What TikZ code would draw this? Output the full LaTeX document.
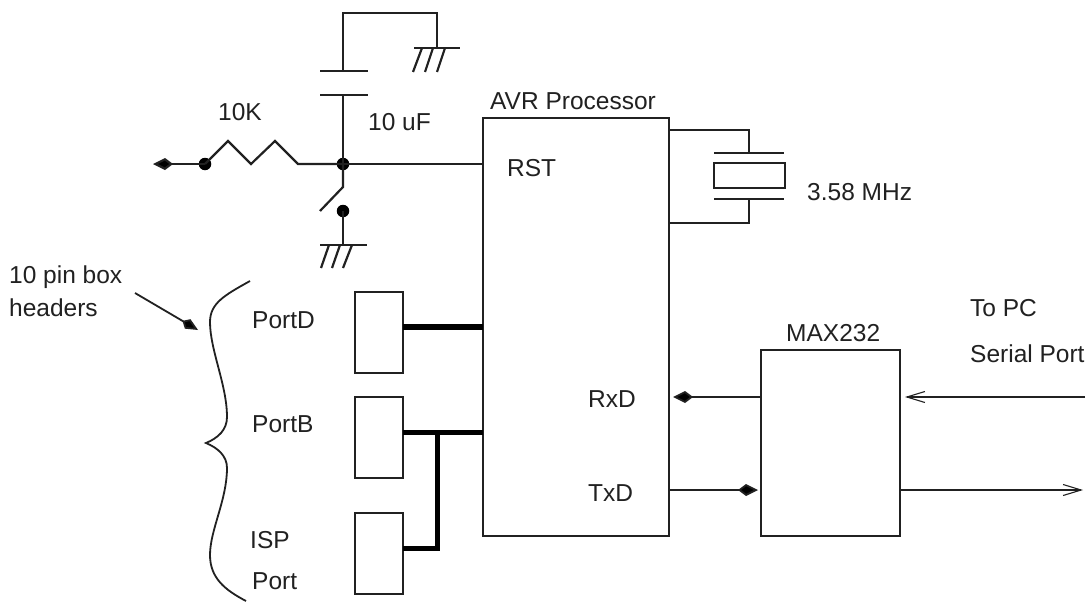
\documentclass[tikz,border=0pt]{standalone}
\usepackage{fontspec}
\setmainfont{Liberation Sans}
\usetikzlibrary{arrows.meta,calc}
\definecolor{ink}{gray}{0.13}
\tikzset{
  wire/.style={draw=ink,line width=2.2pt},
  thin wire/.style={draw=ink,line width=1.8pt},
  fatwire/.style={draw=black,line width=5pt},
  fatterwire/.style={draw=black,line width=6.5pt},
  boxnode/.style={draw=ink,line width=2.2pt,rectangle,anchor=north west,outer sep=0pt,inner sep=0pt},
  label text/.style={anchor=base west,inner sep=0pt,text=ink,font=\fontsize{24.5}{28}\selectfont},
  dotnode/.style={circle,fill=black,minimum size=12.5pt,inner sep=0pt,outer sep=0pt},
  kitehead/.style={-{Kite[length=20pt,width=12pt,inset=8pt,fill=black]}},
  barbhead/.style={-{Straight Barb[length=18pt,width=11pt,line width=1.1pt]}}
}
\begin{document}
\begin{tikzpicture}[x=1pt,y=-1pt]
\fill[white] (0,0) rectangle (1089,602);
\useasboundingbox (0,0) rectangle (1089,602);

% main boxes
\node[boxnode,minimum width=186pt,minimum height=418pt] (avr) at (483,118) {};
\node[boxnode,minimum width=139pt,minimum height=186pt] (max) at (761,350) {};
\node[boxnode,minimum width=48pt,minimum height=81pt] (pd) at (355,292) {};
\node[boxnode,minimum width=48pt,minimum height=81pt] (pb) at (355,397) {};
\node[boxnode,minimum width=48pt,minimum height=81pt] (isp) at (355,513) {};
\node[boxnode,minimum width=71pt,minimum height=25pt] (xtal) at (714,163) {};

% reset network
\node[dotnode] (junction) at (343,164) {};
\node[dotnode] (rleft) at (205,164) {};
\node[dotnode] (swdot) at (343,211) {};
\coordinate (farleft) at (153,164);
\coordinate (capLow) at (343,95);
\coordinate (capHigh) at (343,71);
\coordinate (swHinge) at (343,187);
\coordinate (swEnd) at (320,211);
\coordinate (gndA) at (437,48);
\coordinate (gndB) at (343,245);

\draw[wire,kitehead] (rleft.center) -- (farleft);
\draw[wire,line join=miter] (rleft.center) -- (228,141) -- (251,164) -- (275,141) -- (298,164) -- (junction.center);
\draw[wire] (junction.center) -- (junction.center -| avr.west);
\draw[wire] (junction.center) -- (capLow);
\draw[wire] (capLow -| 320,0) -- (capLow -| 368,0);
\draw[wire] (capHigh -| 320,0) -- (capHigh -| 368,0);
\draw[wire] (capHigh) -- (343,13) -- (437,13) -- (gndA);
\draw[wire] (414,48) -- (460,48);
\draw[wire] (422,48) -- (413,72) (433,48) -- (425,72) (445,48) -- (437,72);
\draw[wire] (junction.center) -- (swHinge) -- (swEnd);
\draw[wire] (swdot.center) -- (gndB);
\draw[wire] (320,245) -- (367,245);
\draw[wire] (329,245) -- (321,268) (340,245) -- (332,268) (352,245) -- (343,268);

% crystal
\coordinate (xt) at (749,153);
\coordinate (xb) at (749,199);
\draw[wire] (714,153) -- (784,153);
\draw[wire] (714,199) -- (784,199);
\draw[wire] (xt) -- (749,130) -- (669,130);
\draw[wire] (xb) -- (749,223) -- (669,223);

% headers
\draw[fatterwire] (pd.east |- 0,327) -- (avr.west |- 0,327);
\draw[fatwire] (pb.east |- 0,432) -- (avr.west |- 0,432);
\draw[fatwire,line join=miter] (437,432) -- (437,548) -- (isp.east |- 0,548);

% serial
\draw[thin wire,kitehead] (max.west |- 0,397) -- (673,397);
\draw[thin wire,kitehead] (avr.east |- 0,490) -- (758,490);
\draw[thin wire,barbhead] (1085,397) -- (905,397);
\draw[thin wire,barbhead] (max.east |- 0,490) -- (1083,490);

% brace and pointer
\draw[draw=ink,line width=1.8pt] (250,281) .. controls (225,295) and (210,303) .. (210,322)
  .. controls (210,350) and (227,385) .. (227,417)
  .. controls (227,430) and (218,438) .. (206,443)
  .. controls (218,448) and (227,456) .. (227,468)
  .. controls (227,500) and (210,530) .. (210,555)
  .. controls (210,578) and (225,590) .. (246,601);
\coordinate (ptrA) at (135,293);
\coordinate (ptrB) at (198,330);
\draw[thin wire,-{Kite[length=18pt,width=11pt,inset=6pt,fill=black]}] (ptrA) -- (ptrB);

% labels
\node[label text] (t10k) at (218,120) {10K};
\node[label text] (t10uf) at (368,130) {10 uF};
\node[label text] (tavr) at (490,109) {AVR Processor};
\node[label text] (trst) at (507,176) {RST};
\node[label text] (txt) at (807,200) {3.58 MHz};
\node[label text] (thdr1) at (9,283) {10 pin box};
\node[label text] (thdr2) at (9,316) {headers};
\node[label text] (tpd) at (252,328) {PortD};
\node[label text] (tpb) at (252,432) {PortB};
\node[label text] (tisp) at (250,548) {ISP};
\node[label text] (tport) at (252,589) {Port};
\node[label text] (trxd) at (588,407) {RxD};
\node[label text] (ttxd) at (588,501) {TxD};
\node[label text] (tmax) at (786,341) {MAX232};
\node[label text] (tpc) at (970,316) {To PC};
\node[label text] (tser) at (970,362) {Serial Port};
\end{tikzpicture}
\end{document}
